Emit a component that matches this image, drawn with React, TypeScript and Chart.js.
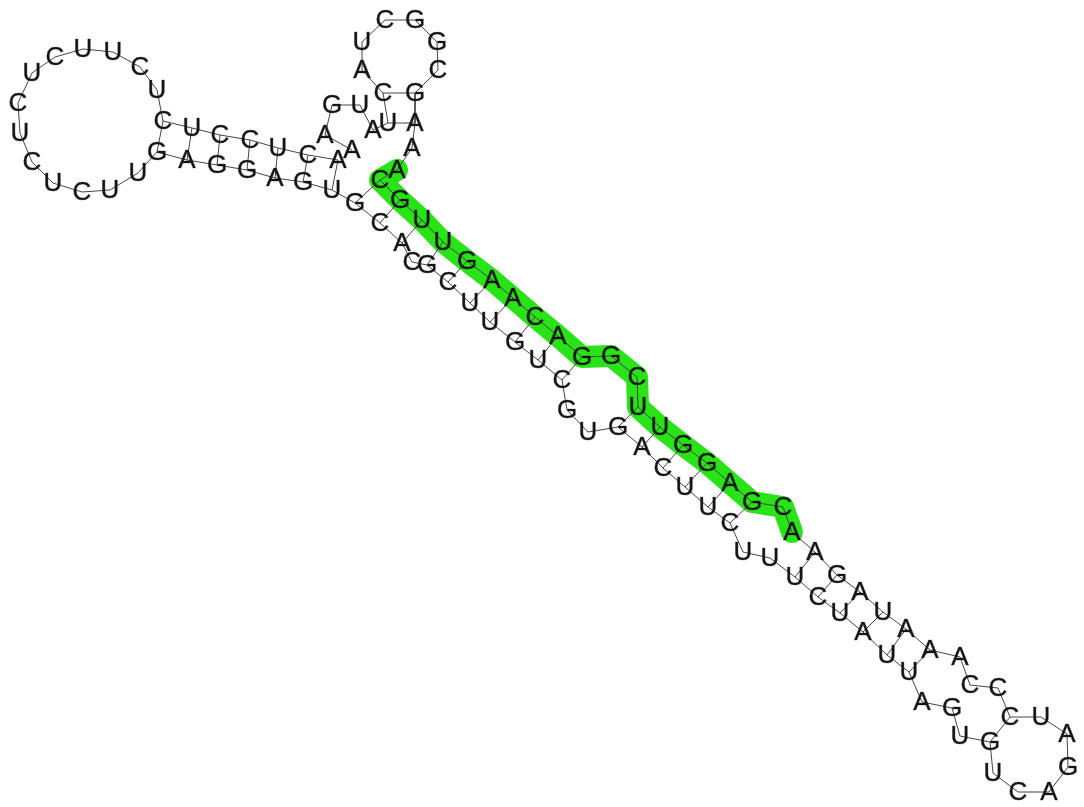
import React, { useEffect, useRef } from "react";
import { Chart, registerables } from "chart.js";

Chart.register(...registerables);

// Nucleotide sequence, 5' to 3'
const sequence = "AAGUAUCAUCGGCGAAACGUUGAACAGGCUUGGAGCAAGAUAAACCCUAGACUGUGAUUAUCUUUCUUCAGUGCUGUUCGCACGUGAGGAGUUCUCUCUCUUCUCUCCUCA";
const bases = sequence.split("");

// Layout coordinates of each nucleotide (x to the right, y downward)
const xs = [
  352, 325, 332, 360, 373, 388, 383, 362, 362, 385,
  415, 437, 438, 415, 415, 412, 397, 380, 400, 422,
  443, 467, 492, 513, 535, 558, 582, 611, 637, 638,
  660, 683, 707, 730, 752, 783, 792, 815, 837, 860,
  883, 906, 930, 960, 970, 998, 1010, 1041, 1067, 1068,
  1049, 1018, 993, 990, 960, 952, 922, 909, 887, 863,
  840, 818, 795, 770, 743, 730, 708, 685, 663, 642,
  618, 588, 567, 562, 538, 515, 490, 470, 448, 427,
  412, 402, 380, 355, 332, 303, 275, 247, 217, 187,
  157, 138, 110, 82, 53, 32, 20, 18, 32, 55,
  83, 113, 140, 157, 163, 192, 220, 250, 278, 308,
  338,
];
const ys = [
  150, 135, 105, 105, 130, 123, 93, 70, 42, 20,
  20, 42, 70, 93, 123, 148, 170, 180, 200, 220,
  242, 261, 280, 298, 317, 336, 357, 356, 377, 407,
  427, 445, 463, 483, 502, 507, 532, 552, 575, 592,
  612, 629, 650, 657, 685, 688, 717, 717, 734, 767,
  792, 792, 773, 742, 736, 708, 702, 672, 655, 632,
  613, 597, 577, 558, 552, 523, 507, 487, 468, 447,
  427, 432, 410, 380, 360, 342, 322, 303, 282, 265,
  262, 243, 223, 203, 190, 182, 178, 170, 165, 160,
  152, 173, 190, 192, 183, 162, 133, 103, 73, 57,
  49, 52, 67, 90, 121, 128, 135, 140, 148, 155,
  160,
];

// Base pairs (1-based nucleotide positions)
const pairs: [number, number][] = [
  [6, 15], [7, 14],
  [18, 84], [19, 83], [20, 82], [21, 80], [22, 79], [23, 78], [24, 77],
  [25, 76], [26, 75], [27, 74],
  [30, 71], [31, 70], [32, 69], [33, 68], [34, 67], [35, 66],
  [38, 63], [39, 62], [40, 61], [41, 60], [42, 59], [43, 58],
  [47, 54],
  [85, 111], [86, 110], [87, 109], [88, 108], [89, 107], [90, 106], [91, 105],
];

// Highlighted stretch (1-based, inclusive)
const highlightStart = 17;
const highlightEnd = 37;

const points = bases.map((_, i) => ({ x: xs[i], y: ys[i] }));

const LETTER_DATASET = "letters";

const letterPlugin = {
  id: "baseLetters",
  afterDatasetsDraw(chart: any) {
    const idx = chart.data.datasets.findIndex((d: any) => d.label === LETTER_DATASET);
    if (idx < 0) return;
    const meta = chart.getDatasetMeta(idx);
    const ctx = chart.ctx;
    ctx.save();
    ctx.font = '26px "Liberation Sans", Arial, sans-serif';
    ctx.fillStyle = "#151515";
    ctx.strokeStyle = "rgba(20,20,20,0.6)";
    ctx.lineWidth = 0.6;
    ctx.textAlign = "center";
    ctx.textBaseline = "middle";
    meta.data.forEach((el: any, i: number) => {
      ctx.fillText(bases[i], el.x, el.y + 1);
      ctx.strokeText(bases[i], el.x, el.y + 1);
    });
    ctx.restore();
  },
};

export default function App() {
  const canvasRef = useRef<HTMLCanvasElement | null>(null);

  useEffect(() => {
    if (!canvasRef.current) return;

    const pairSets = pairs.map(([a, b], k) => ({
      label: `pair-${k}`,
      data: [points[a - 1], points[b - 1]],
      showLine: true,
      borderColor: "#444",
      borderWidth: 1,
      pointRadius: 0,
      order: 2,
    }));

    const chart = new Chart(canvasRef.current, {
      type: "scatter",
      data: {
        datasets: [
          {
            label: LETTER_DATASET,
            data: points,
            pointRadius: 0,
            showLine: false,
            order: 0,
          },
          {
            label: "backbone",
            data: points,
            showLine: true,
            borderColor: "#444",
            borderWidth: 1,
            pointRadius: 0,
            tension: 0,
            order: 1,
          },
          ...pairSets,
          {
            label: "highlight",
            data: points.slice(highlightStart - 1, highlightEnd),
            showLine: true,
            borderColor: "rgb(40, 228, 22)",
            borderWidth: 22,
            borderJoinStyle: "round",
            borderCapStyle: "round",
            pointRadius: 0,
            tension: 0,
            order: 5,
          },
        ] as any,
      },
      options: {
        animation: false,
        responsive: false,
        maintainAspectRatio: false,
        devicePixelRatio: 1,
        layout: { padding: 0 },
        events: [],
        plugins: {
          legend: { display: false },
          tooltip: { enabled: false },
        },
        scales: {
          x: { type: "linear", min: 0, max: 1084, display: false },
          y: { type: "linear", min: 0, max: 807, reverse: true, display: false },
        },
      } as any,
      plugins: [letterPlugin],
    });

    return () => chart.destroy();
  }, []);

  return (
    <div style={{ position: "fixed", left: 0, top: 0, width: 1084, height: 807, background: "#fff" }}>
      <canvas ref={canvasRef} width={1084} height={807} style={{ display: "block" }} />
    </div>
  );
}
